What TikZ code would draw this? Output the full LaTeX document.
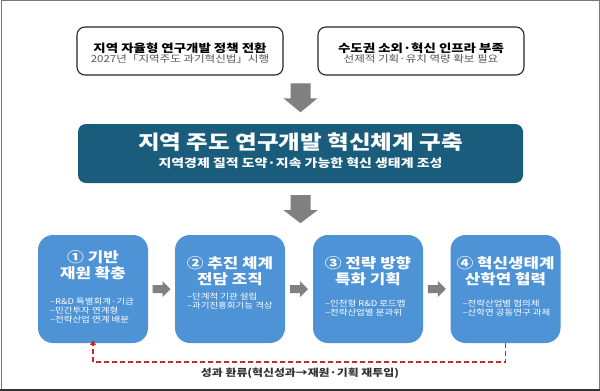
\documentclass[tikz,border=0pt]{standalone}
\usepackage{fontspec}
\setmainfont{Noto Sans CJK KR}[FakeStretch=1.2]
\usetikzlibrary{calc,arrows.meta}
\definecolor{deepteal}{RGB}{25,92,124}
\definecolor{boxblue}{RGB}{77,147,214}
\definecolor{arrowgray}{RGB}{128,128,128}
\definecolor{fbred}{RGB}{204,40,40}
\definecolor{subgray}{RGB}{85,85,85}
\definecolor{framegray}{RGB}{120,120,120}
\definecolor{labelgray}{RGB}{50,50,50}
\begin{document}
\begin{tikzpicture}[x=1pt,y=-1pt,
  topbox/.style={draw=black!85, line width=1.1pt, rounded corners=8pt, minimum width=206pt, minimum height=48pt, fill=white, inner sep=0pt},
  toptitle/.style={inner sep=0pt, font=\bfseries\fontsize{11.2}{13}\selectfont, text=black},
  topsub/.style={inner sep=0pt, font=\fontsize{9.6}{11}\selectfont, text=subgray},
  mainbox/.style={fill=deepteal, rounded corners=8pt, minimum width=445pt, minimum height=59pt, inner sep=0pt},
  maintitle/.style={inner sep=0pt, font=\bfseries\fontsize{19.6}{22}\selectfont, text=white},
  mainsub/.style={inner sep=0pt, font=\bfseries\fontsize{11.6}{13}\selectfont, text=white},
  stepbox/.style={fill=boxblue, rounded corners=15pt, minimum width=110pt, minimum height=108pt, inner sep=0pt},
  steptitle/.style={inner sep=0pt, align=center, font=\bfseries\fontsize{14}{16}\selectfont, text=white},
  stepbul/.style={inner sep=0pt, align=left, anchor=north west, font=\fontsize{7.9}{9}\selectfont, text=white},
  blockarrow/.style={fill=arrowgray},
  feedback/.style={draw=fbred, line width=1.6pt, dash pattern=on 5pt off 3pt, -{Triangle[length=5pt,width=6pt]}, shorten >=-3pt},
  fblabel/.style={inner sep=0pt, font=\bfseries\fontsize{9.9}{12}\selectfont, text=labelgray}
]
\useasboundingbox (0,0) rectangle (600,391);
\fill[white] (0,0) rectangle (600,391);
\draw[framegray, line width=1pt] (1,0.5) -- (599.5,0.5) -- (599.5,389) (1,389) -- (1,0.5);
\draw[black!80, line width=2pt] (0,389.5) -- (600,389.5);

% top boxes
\node[topbox] (t1) at (180,51) {};
\node[topbox] (t2) at (421,51) {};
\node[toptitle] (t1a) at ($(t1.center)+(0,-3)$) {지역 자율형 연구개발 정책 전환};
\node[topsub] (t1b) at ($(t1.center)+(0,8)$) {2027년「지역주도 과기혁신법」시행};
\node[toptitle] (t2a) at ($(t2.center)+(0,-3)$) {수도권 소외·혁신 인프라 부족};
\node[topsub] (t2b) at ($(t2.center)+(0,8)$) {선제적 기획·유치 역량 확보 필요};

% main box
\node[mainbox] (main) at (300.5,153.5) {};
\node[maintitle] (mt) at ($(main.center)+(0,-11.5)$) {지역 주도 연구개발 혁신체계 구축};
\node[mainsub] (ms) at ($(main.center)+(0,9.5)$) {지역경제 질적 도약·지속 가능한 혁신 생태계 조성};

% down arrows
\fill[blockarrow, shift={($(main.north)+(0,-26)$)}]
  (-10,-14.5) -- (10,-14.5) -- (10,0.5) -- (17,0.5) -- (0,14.5) -- (-17,0.5) -- (-10,0.5) -- cycle;

% step boxes
\node[stepbox] (b1) at (93,289) {};
\node[stepbox] (b2) at (230,289) {};
\node[stepbox] (b3) at (368,289) {};
\node[stepbox] (b4) at (505.5,289) {};

\fill[blockarrow, shift={($(main.south)+(0,26)$)}]
  (-10,-14) -- (10,-14) -- (10,1) -- (17,1) -- (0,14) -- (-17,1) -- (-10,1) -- cycle;

\node[steptitle] (b1t) at ($(b1.north)+(0,30.5)$) {① 기반\\재원 확충};
\node[steptitle] (b2t) at ($(b2.north)+(0,36)$) {② 추진 체계\\전담 조직};
\node[steptitle] (b3t) at ($(b3.north)+(0,36)$) {③ 전략 방향\\특화 기획};
\node[steptitle] (b4t) at ($(b4.north)+(0,36)$) {④ 혁신생태계\\산학연 협력};

\node[stepbul] (b1l) at ($(b1.north west)+(12,63)$) {–R\&D 특별회계·기금\\–민간투자 연계형\\–전략산업 연계 배분};
\node[stepbul] (b2l) at ($(b2.north west)+(12,58)$) {–단계적 기관 설립\\–과기진흥회기능 격상};
\node[stepbul] (b3l) at ($(b3.north west)+(12,65)$) {–인천형 R\&D 로드맵\\–전략산업별 분과위};
\node[stepbul] (b4l) at ($(b4.north west)+(12,65)$) {–전략산업별 협의체\\–산학연 공동연구 과제};

% horizontal arrows
\foreach \a/\b in {b1/b2, b2/b3, b3/b4}{
  \fill[blockarrow, shift={($(\a.east)!0.5!(\b.west)$)}]
    (-9,-4) -- (1,-4) -- (1,-8) -- (9,0) -- (1,8) -- (1,4) -- (-9,4) -- cycle;
}

% feedback loop
\draw[feedback] (b4.south) -- ++(0,19) -| (b1.south);
\node[fblabel] (fb) at (300,373) {성과 환류(혁신성과→재원·기획 재투입)};
\end{tikzpicture}
\end{document}
